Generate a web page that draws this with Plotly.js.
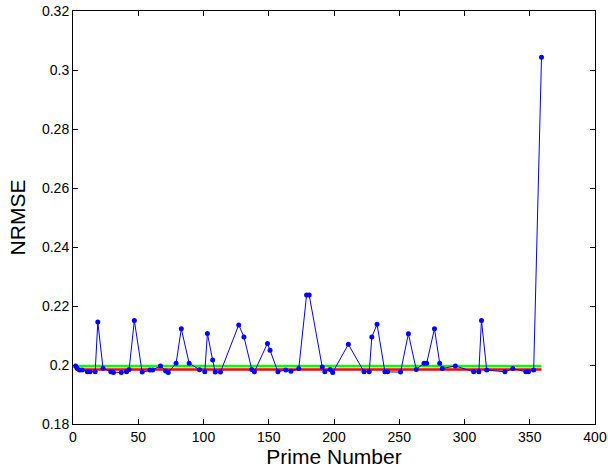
<!DOCTYPE html>
<html>
<head>
<meta charset="utf-8">
<script src="https://cdn.plot.ly/plotly-3.0.1.min.js"></script>
<style>html,body{margin:0;padding:0;background:#fff;}#chart{width:608px;height:471px;}</style>
</head>
<body>
<div id="chart"></div>
<script>
const primes = [2,3,5,7,11,13,17,19,23,29,31,37,41,43,47,53,59,61,67,71,73,79,83,89,97,
  101,103,107,109,113,127,131,137,139,149,151,157,163,167,173,179,181,191,193,197,199,
  211,223,227,229,233,239,241,251,257,263,269,271,277,281,283,293,307,311,313,317,331,
  337,347,349,353,359];
const nrmse = [0.1997,0.1990,0.1983,0.1983,0.1977,0.1977,0.1977,0.2146,0.1989,0.1977,0.1975,0.1975,0.1977,0.1985,0.2151,0.1976,0.1983,0.1983,0.1997,0.1980,0.1975,0.2006,0.2123,0.2006,0.1984,
  0.1977,0.2107,0.2017,0.1976,0.1976,0.2136,0.2095,0.1985,0.1977,0.2073,0.2050,0.1977,0.1983,0.1979,0.1988,0.2237,0.2237,0.1993,0.1977,0.1985,0.1975,
  0.2070,0.1977,0.1977,0.2095,0.2138,0.1977,0.1977,0.1976,0.2106,0.1985,0.2006,0.2006,0.2123,0.2006,0.1988,0.1997,0.1977,0.1977,0.2151,0.1983,0.1977,
  0.1988,0.1977,0.1977,0.1983,0.3043];
const greenLevel = 0.1997;
const redLevel = 0.1985;
const yTickVals = [0.18,0.2,0.22,0.24,0.26,0.28,0.3,0.32];
const yTickText = ['0.18','0.2','0.22','0.24','0.26','0.28','0.3','0.32'];
const xTickVals = [0,50,100,150,200,250,300,350,400];

const xEnds = [primes[0], primes[primes.length-1]];
const traces = [
  {x: xEnds, y: [greenLevel, greenLevel], mode: 'lines', line: {color: '#00ff00', width: 2.5}, hoverinfo: 'skip'},
  {x: xEnds, y: [redLevel, redLevel], mode: 'lines', line: {color: '#ff0000', width: 2.5}, hoverinfo: 'skip'},
  {x: primes, y: nrmse, mode: 'lines+markers', line: {color: '#0000ff', width: 1}, marker: {color: '#0000ff', size: 5}}
];
const FONT = 'Liberation Sans, Arial, sans-serif';
const axisCommon = {
  showline: true, linecolor: '#000', linewidth: 1, mirror: 'ticks',
  ticks: 'inside', ticklen: 5, tickcolor: '#000', tickwidth: 1,
  showgrid: false, zeroline: false,
  tickfont: {family: FONT, size: 14, color: '#000'}
};
const layout = {
  width: 608, height: 471,
  margin: {l: 73, r: 13, t: 11, b: 47},
  paper_bgcolor: '#fff', plot_bgcolor: '#fff',
  showlegend: false,
  xaxis: Object.assign({}, axisCommon, {
    range: [0, 400], tickvals: xTickVals, ticktext: xTickVals.map(String),
    title: {text: 'Prime Number', font: {family: FONT, size: 21, color: '#000'}, standoff: 2}
  }),
  yaxis: Object.assign({}, axisCommon, {
    range: [0.18, 0.32], tickvals: yTickVals, ticktext: yTickText,
    title: {text: 'NRMSE', font: {family: FONT, size: 21, color: '#000'}, standoff: 10}
  })
};
Plotly.newPlot('chart', traces, layout, {displayModeBar: false, staticPlot: true});
</script>
</body>
</html>
